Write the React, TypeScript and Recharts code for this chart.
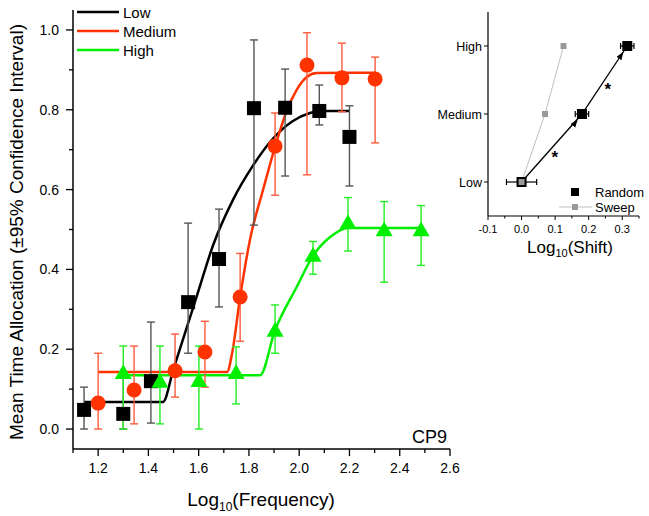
import React from "react";
import { ComposedChart, Line, Scatter, XAxis, YAxis, ErrorBar } from "recharts";

// main panel: Low / Medium / High observations
const lowX = [1.144, 1.3, 1.41, 1.558, 1.681, 1.82, 1.944, 2.08, 2.2];
const lowY = [0.048, 0.038, 0.12, 0.318, 0.426, 0.804, 0.805, 0.797, 0.732];
const lowLo = [0.0, 0.0, 0.015, 0.19, 0.306, 0.511, 0.634, 0.762, 0.609];
const lowHi = [0.105, 0.133, 0.268, 0.516, 0.551, 0.975, 0.902, 0.862, 0.81];

const medX = [1.2, 1.343, 1.506, 1.625, 1.765, 1.904, 2.031, 2.17, 2.302];
const medY = [0.065, 0.098, 0.146, 0.193, 0.331, 0.709, 0.912, 0.88, 0.877];
const medLo = [0.0, 0.013, 0.08, 0.105, 0.22, 0.586, 0.637, 0.795, 0.717];
const medHi = [0.19, 0.208, 0.238, 0.27, 0.44, 0.792, 0.993, 0.967, 0.932];

const highX = [1.3, 1.446, 1.601, 1.749, 1.904, 2.055, 2.194, 2.338, 2.485];
const highY = [0.14, 0.118, 0.12, 0.14, 0.246, 0.434, 0.516, 0.498, 0.498];
const highLo = [0.0, 0.013, 0.0, 0.063, 0.19, 0.388, 0.446, 0.368, 0.41];
const highHi = [0.208, 0.208, 0.208, 0.206, 0.311, 0.47, 0.58, 0.57, 0.56];

// fitted curves
const lowFitX = [1.144, 1.458, 1.5, 1.55, 1.6, 1.657, 1.737, 1.816, 1.896, 1.975, 2.043, 2.08, 2.2];
const lowFitY = [0.068, 0.068, 0.151, 0.249, 0.348, 0.46, 0.575, 0.66, 0.728, 0.772, 0.792, 0.797, 0.797];
const medFitX = [1.2, 1.713, 1.733, 1.765, 1.804, 1.856, 1.904, 1.952, 1.99, 2.03, 2.07, 2.302];
const medFitY = [0.143, 0.143, 0.19, 0.331, 0.474, 0.599, 0.707, 0.8, 0.85, 0.882, 0.892, 0.893];
const highFitX = [1.3, 1.844, 1.904, 1.99, 2.055, 2.123, 2.194, 2.485];
const highFitY = [0.135, 0.135, 0.248, 0.356, 0.434, 0.481, 0.504, 0.504];

const xMajor = [1.2, 1.4, 1.6, 1.8, 2.0, 2.2, 2.4, 2.6];
const xMinor = [1.1, 1.3, 1.5, 1.7, 1.9, 2.1, 2.3, 2.5];
const yMajor = [0, 0.2, 0.4, 0.6, 0.8, 1.0];
const yMinor = [0.1, 0.3, 0.5, 0.7, 0.9];

const seriesNames = ["Low", "Medium", "High"];
const seriesColors = ["#000000", "#ff3300", "#00ee00"];

// inset: log10 shift per level
const levels = ["Low", "Medium", "High"];
const randomShift = [0.0, 0.18, 0.315];
const randomErr = [0.045, 0.02, 0.02];
const sweepShift = [0.0, 0.07, 0.125];
const starX = [0.099, 0.257];
const starLevel = [0.41, 1.41];
const insetXMajor = [-0.1, 0.0, 0.1, 0.2, 0.3];
const insetXMinor = [-0.05, 0.05, 0.15, 0.25, 0.35];

const FONT = "'Liberation Sans', Arial, sans-serif";

const pts = (xs: number[], ys: number[], lo?: number[], hi?: number[]) =>
  xs.map((x, i) => ({
    x,
    y: ys[i],
    err: lo && hi ? [ys[i] - lo[i], hi[i] - ys[i]] : undefined,
  }));

const lowData = pts(lowX, lowY, lowLo, lowHi);
const medData = pts(medX, medY, medLo, medHi);
const highData = pts(highX, highY, highLo, highHi);
const lowFit = pts(lowFitX, lowFitY);
const medFit = pts(medFitX, medFitY);
const highFit = pts(highFitX, highFitY);

const randomData = randomShift.map((x, i) => ({ x, y: i, err: randomErr[i] }));
const sweepData = sweepShift.map((x, i) => ({ x, y: i }));
const starData = starX.map((x, i) => ({ x, y: starLevel[i] }));

const has = (arr: number[], v: number) => arr.some((a) => Math.abs(a - v) < 1e-6);

const MainXTick = (p: any) => {
  const v = p.payload.value;
  const major = has(xMajor, v);
  return (
    <g>
      <line x1={p.x} x2={p.x} y1={p.y} y2={p.y + (major ? 7 : 4)} stroke="#000" strokeWidth={1.3} />
      {major && (
        <text x={p.x} y={p.y + 24} textAnchor="middle" fontSize={14} fontFamily={FONT} fill="#000">
          {v.toFixed(1)}
        </text>
      )}
    </g>
  );
};

const MainYTick = (p: any) => {
  const v = p.payload.value;
  const major = has(yMajor, v);
  return (
    <g>
      <line x1={p.x} x2={p.x - (major ? 7 : 4)} y1={p.y} y2={p.y} stroke="#000" strokeWidth={1.3} />
      {major && (
        <text x={p.x - 14} y={p.y + 5} textAnchor="end" fontSize={14} fontFamily={FONT} fill="#000">
          {v.toFixed(1)}
        </text>
      )}
    </g>
  );
};

const InsetXTick = (p: any) => {
  const v = p.payload.value;
  const major = has(insetXMajor, v);
  return (
    <g>
      <line x1={p.x} x2={p.x} y1={p.y} y2={p.y + (major ? 4 : 2.5)} stroke="#000" strokeWidth={1} />
      {major && (
        <text x={p.x} y={p.y + 17} textAnchor="middle" fontSize={11} fontFamily={FONT} fill="#000">
          {v.toFixed(1)}
        </text>
      )}
    </g>
  );
};

const InsetYTick = (p: any) => (
  <g>
    <line x1={p.x} x2={p.x - 4} y1={p.y} y2={p.y} stroke="#000" strokeWidth={1} />
    <text x={p.x - 6} y={p.y + 4.5} textAnchor="end" fontSize={12.5} fontFamily={FONT} fill="#000">
      {levels[p.payload.value]}
    </text>
  </g>
);

const square = (s: number, fill: string) => (p: any) =>
  <rect x={p.cx - s / 2} y={p.cy - s / 2} width={s} height={s} fill={fill} />;
const circle = (r: number, fill: string) => (p: any) => <circle cx={p.cx} cy={p.cy} r={r} fill={fill} />;
const triangle = (w: number, fill: string) => (p: any) => {
  const h = w * 0.87;
  return (
    <polygon
      points={`${p.cx},${p.cy - h * 0.6} ${p.cx - w / 2},${p.cy + h * 0.4} ${p.cx + w / 2},${p.cy + h * 0.4}`}
      fill={fill}
    />
  );
};
const star = (p: any) => (
  <text x={p.cx} y={p.cy + 9} textAnchor="middle" fontSize={17} fontWeight="bold" fontFamily={FONT} fill="#000">
    *
  </text>
);

export default function App() {
  return (
    <div style={{ position: "absolute", left: 0, top: 0, width: 649, height: 516, background: "#fff", fontFamily: FONT }}>
      <svg width={0} height={0} style={{ position: "absolute" }}>
        <defs>
          <marker id="arrowHead" markerUnits="userSpaceOnUse" markerWidth={10} markerHeight={8} refX={15} refY={3} orient="auto">
            <path d="M0,0 L8,3 L0,6 z" fill="#000" />
          </marker>
        </defs>
      </svg>

      <div style={{ position: "absolute", left: 0, top: 0 }}>
        <ComposedChart width={470} height={516} margin={{ top: 10, right: 20, bottom: 37, left: 13 }}>
          <XAxis
            type="number"
            dataKey="x"
            domain={[1.1, 2.6]}
            ticks={[...xMinor, ...xMajor].sort((a, b) => a - b)}
            interval={0}
            height={30}
            tickSize={0}
            tickMargin={0}
            tickLine={false}
            tick={<MainXTick />}
            axisLine={{ stroke: "#000", strokeWidth: 1.5 }}
          />
          <YAxis
            type="number"
            dataKey="y"
            domain={[-0.05, 1.05]}
            ticks={[...yMinor, ...yMajor].sort((a, b) => a - b)}
            interval={0}
            width={60}
            tickSize={0}
            tickMargin={0}
            tickLine={false}
            tick={<MainYTick />}
            axisLine={{ stroke: "#000", strokeWidth: 1.5 }}
          />
          <Line data={lowFit} dataKey="y" type="monotone" stroke={seriesColors[0]} strokeWidth={2.5} dot={false} isAnimationActive={false} />
          <Line data={medFit} dataKey="y" type="monotone" stroke={seriesColors[1]} strokeWidth={2.5} dot={false} isAnimationActive={false} />
          <Line data={highFit} dataKey="y" type="monotone" stroke={seriesColors[2]} strokeWidth={2.5} dot={false} isAnimationActive={false} />
          <Scatter data={lowData} dataKey="y" shape={square(14, seriesColors[0])} isAnimationActive={false}>
            <ErrorBar dataKey="err" direction="y" width={4} stroke="#555" strokeWidth={1.4} />
          </Scatter>
          <Scatter data={medData} dataKey="y" shape={circle(7.5, seriesColors[1])} isAnimationActive={false}>
            <ErrorBar dataKey="err" direction="y" width={4} stroke="#ff5a3c" strokeWidth={1.4} />
          </Scatter>
          <Scatter data={highData} dataKey="y" shape={triangle(17, seriesColors[2])} isAnimationActive={false}>
            <ErrorBar dataKey="err" direction="y" width={4} stroke="#22ee22" strokeWidth={1.4} />
          </Scatter>
        </ComposedChart>
      </div>

      <div style={{ position: "absolute", left: 420, top: 0 }}>
        <ComposedChart width={229} height={270} margin={{ top: 12, right: 10, bottom: 34, left: 28 }}>
          <XAxis
            type="number"
            dataKey="x"
            domain={[-0.1, 0.35]}
            ticks={[...insetXMinor, ...insetXMajor].sort((a, b) => a - b)}
            interval={0}
            height={20}
            tickSize={0}
            tickMargin={0}
            tickLine={false}
            tick={<InsetXTick />}
            axisLine={{ stroke: "#000", strokeWidth: 1.2 }}
          />
          <YAxis
            type="number"
            dataKey="y"
            domain={[-0.5, 2.5]}
            ticks={[0, 1, 2]}
            interval={0}
            width={40}
            tickSize={0}
            tickMargin={0}
            tickLine={false}
            tick={<InsetYTick />}
            axisLine={{ stroke: "#000", strokeWidth: 1.2 }}
          />
          <Line data={sweepData} dataKey="y" type="linear" stroke="#c0c0c0" strokeWidth={1} dot={false} isAnimationActive={false} />
          <Line
            data={randomData}
            dataKey="y"
            type="linear"
            stroke="#000"
            strokeWidth={1.3}
            dot={false}
            markerMid="url(#arrowHead)"
            markerEnd="url(#arrowHead)"
            isAnimationActive={false}
          />
          <Scatter data={randomData} dataKey="y" shape={square(10, "#000")} isAnimationActive={false}>
            <ErrorBar dataKey="err" direction="x" width={3} stroke="#000" strokeWidth={1.2} />
          </Scatter>
          <Scatter data={sweepData} dataKey="y" shape={square(6, "#999")} isAnimationActive={false} />
          <Scatter data={starData} dataKey="y" shape={star} isAnimationActive={false} />
        </ComposedChart>
      </div>

      <svg width={649} height={516} style={{ position: "absolute", left: 0, top: 0, pointerEvents: "none" }} fontFamily={FONT}>
        {seriesNames.map((n, i) => (
          <g key={n}>
            <line x1={77} x2={119} y1={12 + i * 19} y2={12 + i * 19} stroke={seriesColors[i]} strokeWidth={2.5} />
            <text x={123} y={17.5 + i * 19} fontSize={15} fill="#000">
              {n}
            </text>
          </g>
        ))}
        <text x={447} y={443} textAnchor="end" fontSize={18} fill="#000">
          CP9
        </text>
        <text x={261} y={506} textAnchor="middle" fontSize={19} fill="#000">
          <tspan>Log</tspan>
          <tspan fontSize={12} dy={5}>10</tspan>
          <tspan dy={-5}>(Frequency)</tspan>
        </text>
        <text transform="translate(23,232) rotate(-90)" textAnchor="middle" fontSize={19} fill="#000">
          Mean Time Allocation (±95% Confidence Interval)
        </text>

        <rect x={571} y={188} width={8} height={8} fill="#000" />
        <text x={595} y={197} fontSize={13} fill="#000">
          Random
        </text>
        <line x1={559} x2={592} y1={207} y2={207} stroke="#c0c0c0" strokeWidth={1} />
        <rect x={572} y={204} width={6} height={6} fill="#999" />
        <text x={595} y={212} fontSize={13} fill="#000">
          Sweep
        </text>
        <text x={570} y={253} textAnchor="middle" fontSize={17} fill="#000">
          <tspan>Log</tspan>
          <tspan fontSize={11} dy={4}>10</tspan>
          <tspan dy={-4}>(Shift)</tspan>
        </text>
      </svg>
    </div>
  );
}
